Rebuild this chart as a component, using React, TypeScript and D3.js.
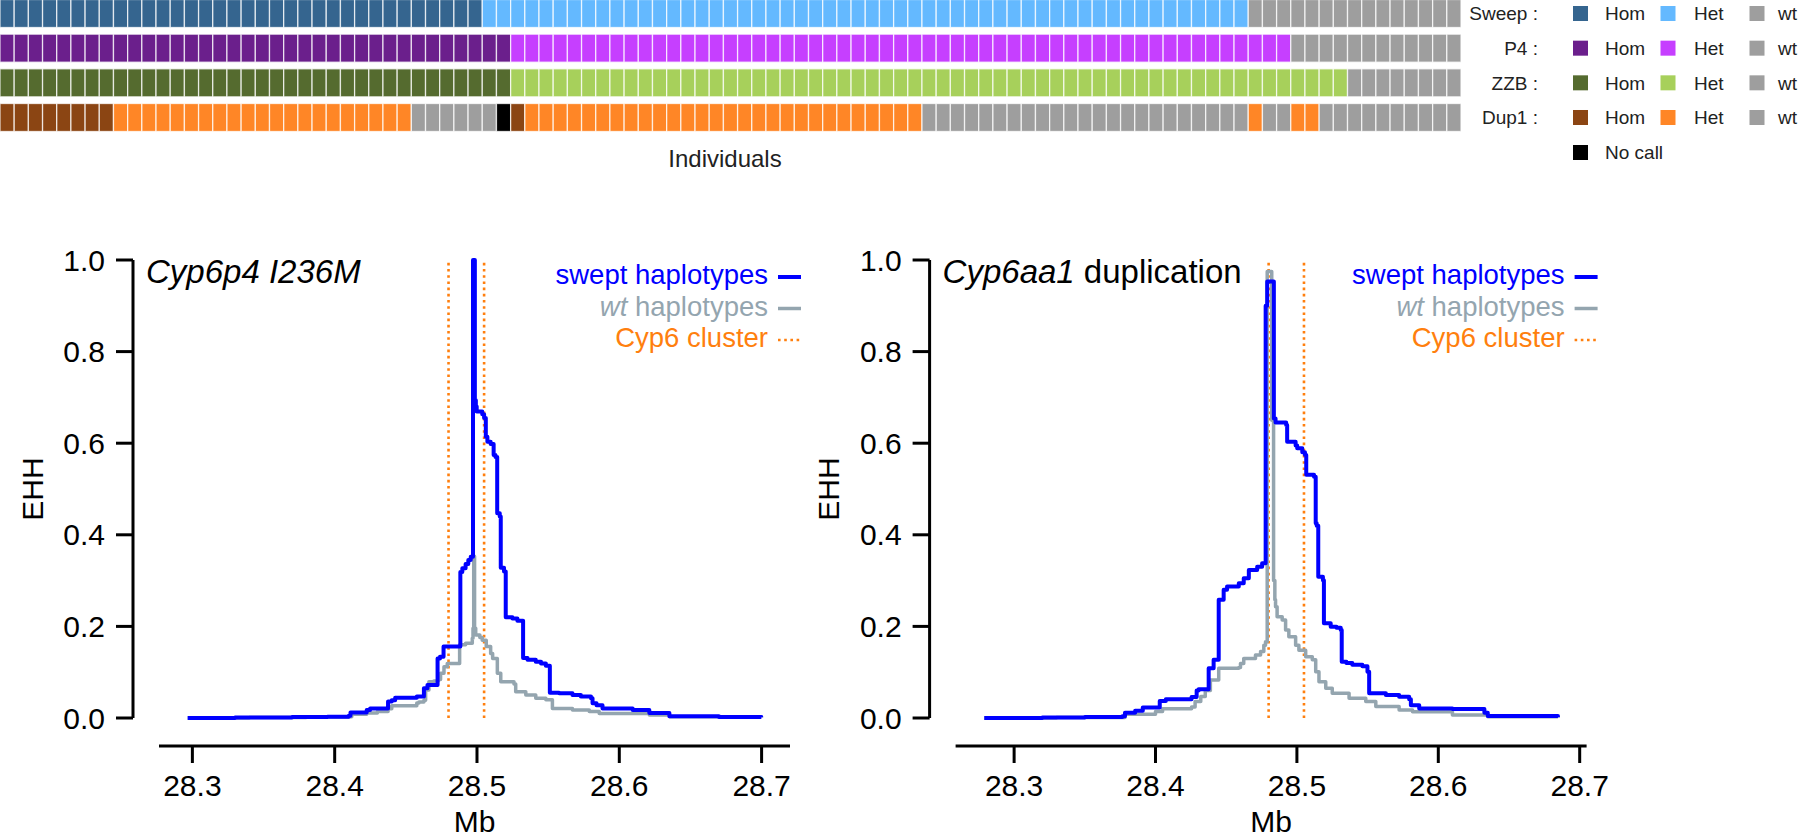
import React from 'react';
import * as d3 from 'd3';

// ---------- Top genotype strip data (run-length: [genotype, count]) ----------
const genotypeRows = ['Sweep', 'P4', 'ZZB', 'Dup1'];
const sweepCalls: [string, number][] = [['Hom', 34], ['Het', 54], ['wt', 15]];
const p4Calls: [string, number][] = [['Hom', 36], ['Het', 55], ['wt', 12]];
const zzbCalls: [string, number][] = [['Hom', 36], ['Het', 59], ['wt', 8]];
const dup1Calls: [string, number][] = [
  ['Hom', 8], ['Het', 21], ['wt', 6], ['NC', 1], ['Hom', 1], ['Het', 28],
  ['wt', 23], ['Het', 1], ['wt', 2], ['Het', 2], ['wt', 10],
];
const rowCalls = [sweepCalls, p4Calls, zzbCalls, dup1Calls];
const homColors = ['#35658f', '#6b1f8c', '#556b2f', '#8b4513'];
const hetColors = ['#64b9ff', '#c63fff', '#a7d05b', '#ff8626'];
const wtColor = '#9e9e9e';
const noCallColor = '#000000';
const legendKinds = ['Hom', 'Het', 'wt'];

// ---------- EHH data: [Mb, EHH] (step: level starting at Mb) ----------
const p4Swept: [number, number][] = [
  [28.2967, 0.0], [28.33, 0.001], [28.37, 0.002], [28.395, 0.003], [28.4099, 0.005],
  [28.4111, 0.012], [28.4225, 0.0175], [28.4249, 0.021], [28.4375, 0.036], [28.4401, 0.039],
  [28.4425, 0.044], [28.4577, 0.047], [28.4627, 0.065], [28.4652, 0.072], [28.4723, 0.13],
  [28.474, 0.134], [28.4765, 0.156], [28.4883, 0.319], [28.4897, 0.327], [28.492, 0.336],
  [28.4939, 0.345], [28.4956, 0.352], [28.4972, 1.0], [28.4985, 0.694], [28.4992, 0.68],
  [28.4998, 0.669], [28.5037, 0.663], [28.505, 0.655], [28.5062, 0.614], [28.5073, 0.603],
  [28.5096, 0.598], [28.5117, 0.574], [28.513, 0.57], [28.5142, 0.447], [28.516, 0.44],
  [28.5167, 0.328], [28.519, 0.32], [28.5202, 0.22], [28.5249, 0.217], [28.5284, 0.2125],
  [28.5324, 0.131], [28.5355, 0.127], [28.5413, 0.123], [28.545, 0.119], [28.5484, 0.114],
  [28.5512, 0.055], [28.5577, 0.054], [28.5671, 0.05], [28.573, 0.047], [28.5801, 0.043],
  [28.5812, 0.032], [28.584, 0.028], [28.5882, 0.021], [28.6094, 0.0175], [28.6211, 0.011],
  [28.6352, 0.004], [28.67, 0.002], [28.6998, 0.0015],
];
const p4Wt: [number, number][] = [
  [28.2967, 0.0], [28.34, 0.001], [28.38, 0.002], [28.41, 0.003], [28.412, 0.008],
  [28.4225, 0.011], [28.43, 0.014], [28.4375, 0.02], [28.4401, 0.027], [28.4577, 0.033],
  [28.4592, 0.035], [28.4627, 0.039], [28.4639, 0.061], [28.4662, 0.079], [28.4697, 0.081],
  [28.4728, 0.084], [28.4744, 0.0975], [28.4768, 0.112], [28.4791, 0.119], [28.4878, 0.16],
  [28.492, 0.163], [28.4967, 0.174], [28.4972, 0.196], [28.4977, 0.353], [28.4983, 0.196],
  [28.4991, 0.181], [28.502, 0.176], [28.5037, 0.17], [28.5065, 0.156], [28.5096, 0.141],
  [28.511, 0.13], [28.5143, 0.0975], [28.5167, 0.079], [28.526, 0.074], [28.5272, 0.0575],
  [28.5343, 0.05], [28.5413, 0.043], [28.5484, 0.04], [28.553, 0.021], [28.5671, 0.0175],
  [28.5789, 0.014], [28.5859, 0.01], [28.6211, 0.0066], [28.6352, 0.003], [28.6998, 0.001],
];
const dupSwept: [number, number][] = [
  [28.2789, 0.0], [28.32, 0.001], [28.35, 0.002], [28.3766, 0.004], [28.3784, 0.0116],
  [28.3856, 0.016], [28.391, 0.023], [28.403, 0.037], [28.4073, 0.041], [28.4255, 0.046],
  [28.4291, 0.06], [28.4305, 0.0627], [28.4376, 0.1085], [28.4411, 0.127], [28.4447, 0.258],
  [28.4482, 0.28], [28.4506, 0.287], [28.4589, 0.294], [28.4624, 0.305], [28.466, 0.323],
  [28.4719, 0.33], [28.4754, 0.338], [28.4779, 0.9], [28.479, 0.953], [28.4837, 0.654],
  [28.4849, 0.645], [28.4924, 0.64], [28.4931, 0.603], [28.4991, 0.595], [28.5002, 0.589],
  [28.5038, 0.58], [28.5057, 0.574], [28.5066, 0.531], [28.5121, 0.527], [28.5133, 0.425],
  [28.514, 0.42], [28.5151, 0.3085], [28.5184, 0.301], [28.5191, 0.207], [28.5239, 0.199],
  [28.528, 0.197], [28.531, 0.192], [28.5317, 0.123], [28.535, 0.12], [28.5392, 0.116],
  [28.5463, 0.113], [28.5499, 0.101], [28.5511, 0.054], [28.5629, 0.05], [28.5723, 0.0466],
  [28.5794, 0.041], [28.5806, 0.028], [28.5865, 0.021], [28.61, 0.0197], [28.6326, 0.0116],
  [28.635, 0.0044], [28.6846, 0.0015],
];
const dupWt: [number, number][] = [
  [28.2789, 0.0], [28.33, 0.001], [28.3784, 0.008], [28.4, 0.014], [28.405, 0.02],
  [28.4255, 0.024], [28.428, 0.036], [28.432, 0.047], [28.4352, 0.06], [28.4388, 0.083],
  [28.4447, 0.1085], [28.4589, 0.11], [28.4601, 0.119], [28.4624, 0.13], [28.4707, 0.1376],
  [28.4743, 0.145], [28.4766, 0.159], [28.4778, 0.1667], [28.479, 0.975], [28.4822, 0.65],
  [28.4835, 0.3], [28.4844, 0.258], [28.4849, 0.243], [28.486, 0.221], [28.4896, 0.214],
  [28.492, 0.192], [28.4943, 0.1776], [28.4991, 0.159], [28.5014, 0.148], [28.5062, 0.134],
  [28.5109, 0.127], [28.5133, 0.101], [28.5156, 0.079], [28.5204, 0.065], [28.525, 0.054],
  [28.5369, 0.043], [28.5487, 0.036], [28.5558, 0.025], [28.5723, 0.0175], [28.5818, 0.0138],
  [28.61, 0.0066], [28.635, 0.003], [28.6846, 0.001],
];
const cyp6Cluster = [28.48, 28.505];
const xTicks = [28.3, 28.4, 28.5, 28.6, 28.7];
const yTicks = [0, 0.2, 0.4, 0.6, 0.8, 1.0];
const legendLabels = ['swept haplotypes', 'wt haplotypes', 'Cyp6 cluster'];

const W = 1800;
const H = 839;
const FONT = "'Liberation Sans', Arial, Helvetica, sans-serif";
const SWEPT = '#0000ff';
const WT = '#94a5af';
const ORANGE = '#ff7f0e';

function expand(runs: [string, number][]): string[] {
  const out: string[] = [];
  runs.forEach(([g, n]) => { for (let i = 0; i < n; i++) out.push(g); });
  return out;
}

function GenotypeStrip() {
  const rows = rowCalls.map(expand);
  const n = rows[0].length;
  const x = d3.scaleBand<number>().domain(d3.range(n)).range([0, 1461]).padding(0);
  const y = d3.scaleBand<string>().domain(genotypeRows).range([-0.5, 131.5]).paddingInner(0.192).paddingOuter(0);
  const color = (ri: number, g: string) =>
    g === 'Hom' ? homColors[ri] : g === 'Het' ? hetColors[ri] : g === 'NC' ? noCallColor : wtColor;
  const legX = [1580.5, 1668, 1757];
  const textX = [1605, 1694, 1778];
  return (
    <g>
      {rows.map((r, ri) => r.map((g, ci) => (
        <rect key={`${ri}-${ci}`} x={x(ci)} y={y(genotypeRows[ri])} width={x.bandwidth()} height={y.bandwidth()}
          fill={color(ri, g)} stroke="#ffffff" strokeOpacity={0.75} strokeWidth={1.3} />
      )))}
      <text x={725} y={167} textAnchor="middle" fontSize={24} fontFamily={FONT} fill="#222">Individuals</text>
      {genotypeRows.map((name, ri) => {
        const cy = (y(name) as number) + y.bandwidth() / 2;
        return (
          <g key={name}>
            <text x={1538} y={cy + 6.8} textAnchor="end" fontSize={19} fontFamily={FONT} fill="#222">{name} :</text>
            {legendKinds.map((k, ki) => (
              <g key={k}>
                <rect x={legX[ki] - 7.5} y={cy - 7.5} width={15} height={15}
                  fill={k === 'Hom' ? homColors[ri] : k === 'Het' ? hetColors[ri] : wtColor} />
                <text x={textX[ki]} y={cy + 6.8} fontSize={19} fontFamily={FONT} fill="#222">{k}</text>
              </g>
            ))}
          </g>
        );
      })}
      <rect x={legX[0] - 7.5} y={152.5 - 7.5} width={15} height={15} fill={noCallColor} />
      <text x={textX[0]} y={152.5 + 6.8} fontSize={19} fontFamily={FONT} fill="#222">No call</text>
    </g>
  );
}

function Panel({ left, swept, wt, title }: { left: number; swept: [number, number][]; wt: [number, number][]; title: React.ReactNode }) {
  const ext = d3.extent(swept, (d) => d[0]) as [number, number];
  const span = ext[1] - ext[0];
  const x = d3.scaleLinear().domain([ext[0] - 0.05 * span, ext[1] + 0.05 * span]).range([left, left + 631]);
  const y = d3.scaleLinear().domain([0, 1]).range([718, 260]);
  const line = d3.line<[number, number]>().x((d) => x(d[0])).y((d) => y(d[1])).curve(d3.curveStepAfter);
  const yAxisX = left - 26;
  const xAxisY = 746;
  const legRight = left + 609;
  const sampleX0 = left + 619;
  const sampleX1 = left + 642;
  const legBase = [284, 315.5, 347];
  const legColors = [SWEPT, WT, ORANGE];
  return (
    <g fontFamily={FONT}>
      {cyp6Cluster.map((c) => (
        <line key={c} x1={x(c)} x2={x(c)} y1={y(0)} y2={y(1)} stroke={ORANGE} strokeWidth={2.6} strokeDasharray="2.6 3.6" />
      ))}
      <path d={line(wt) || ''} fill="none" stroke={WT} strokeWidth={3.5} strokeLinejoin="round" />
      <path d={line(swept) || ''} fill="none" stroke={SWEPT} strokeWidth={4} strokeLinejoin="round" />
      <line x1={yAxisX} x2={yAxisX} y1={y(0)} y2={y(1)} stroke="#000" strokeWidth={3} />
      {yTicks.map((t) => (
        <g key={t}>
          <line x1={yAxisX - 17} x2={yAxisX} y1={y(t)} y2={y(t)} stroke="#000" strokeWidth={3} />
          <text x={yAxisX - 28} y={y(t) + 10.5} textAnchor="end" fontSize={30} fill="#000">{t.toFixed(1)}</text>
        </g>
      ))}
      <text transform={`translate(${left - 127},${(y(0) + y(1)) / 2}) rotate(-90)`} textAnchor="middle" fontSize={30} dy={10.5} fill="#000">EHH</text>
      <line x1={x.range()[0]} x2={x.range()[1]} y1={xAxisY} y2={xAxisY} stroke="#000" strokeWidth={3} />
      {xTicks.map((t) => (
        <g key={t}>
          <line x1={x(t)} x2={x(t)} y1={xAxisY} y2={xAxisY + 17} stroke="#000" strokeWidth={3} />
          <text x={x(t)} y={796} textAnchor="middle" fontSize={30} fill="#000">{t.toFixed(1)}</text>
        </g>
      ))}
      <text x={(x.range()[0] + x.range()[1]) / 2} y={832} textAnchor="middle" fontSize={30} fill="#000">Mb</text>
      <text x={left - 13} y={283} fontSize={33} fill="#000">{title}</text>
      {legendLabels.map((lab, i) => (
        <g key={lab}>
          <text x={legRight} y={legBase[i]} textAnchor="end" fontSize={27.5} fill={legColors[i]}>
            {i === 1 ? (<><tspan fontStyle="italic">wt</tspan> haplotypes</>) : lab}
          </text>
          <line x1={sampleX0} x2={sampleX1} y1={legBase[i] - 7} y2={legBase[i] - 7} stroke={legColors[i]}
            strokeWidth={i === 2 ? 2.6 : i === 0 ? 4 : 3.5} strokeDasharray={i === 2 ? '2.6 3.6' : undefined} />
        </g>
      ))}
    </g>
  );
}

export default function App() {
  return (
    <svg width={W} height={H} viewBox={`0 0 ${W} ${H}`} style={{ position: 'absolute', left: 0, top: 0, background: '#fff' }}>
      <rect x={0} y={0} width={W} height={H} fill="#fff" />
      <GenotypeStrip />
      <Panel left={159} swept={p4Swept} wt={p4Wt}
        title={<tspan fontStyle="italic">Cyp6p4 I236M</tspan>} />
      <Panel left={955.6} swept={dupSwept} wt={dupWt}
        title={<><tspan fontStyle="italic">Cyp6aa1</tspan> duplication</>} />
    </svg>
  );
}
